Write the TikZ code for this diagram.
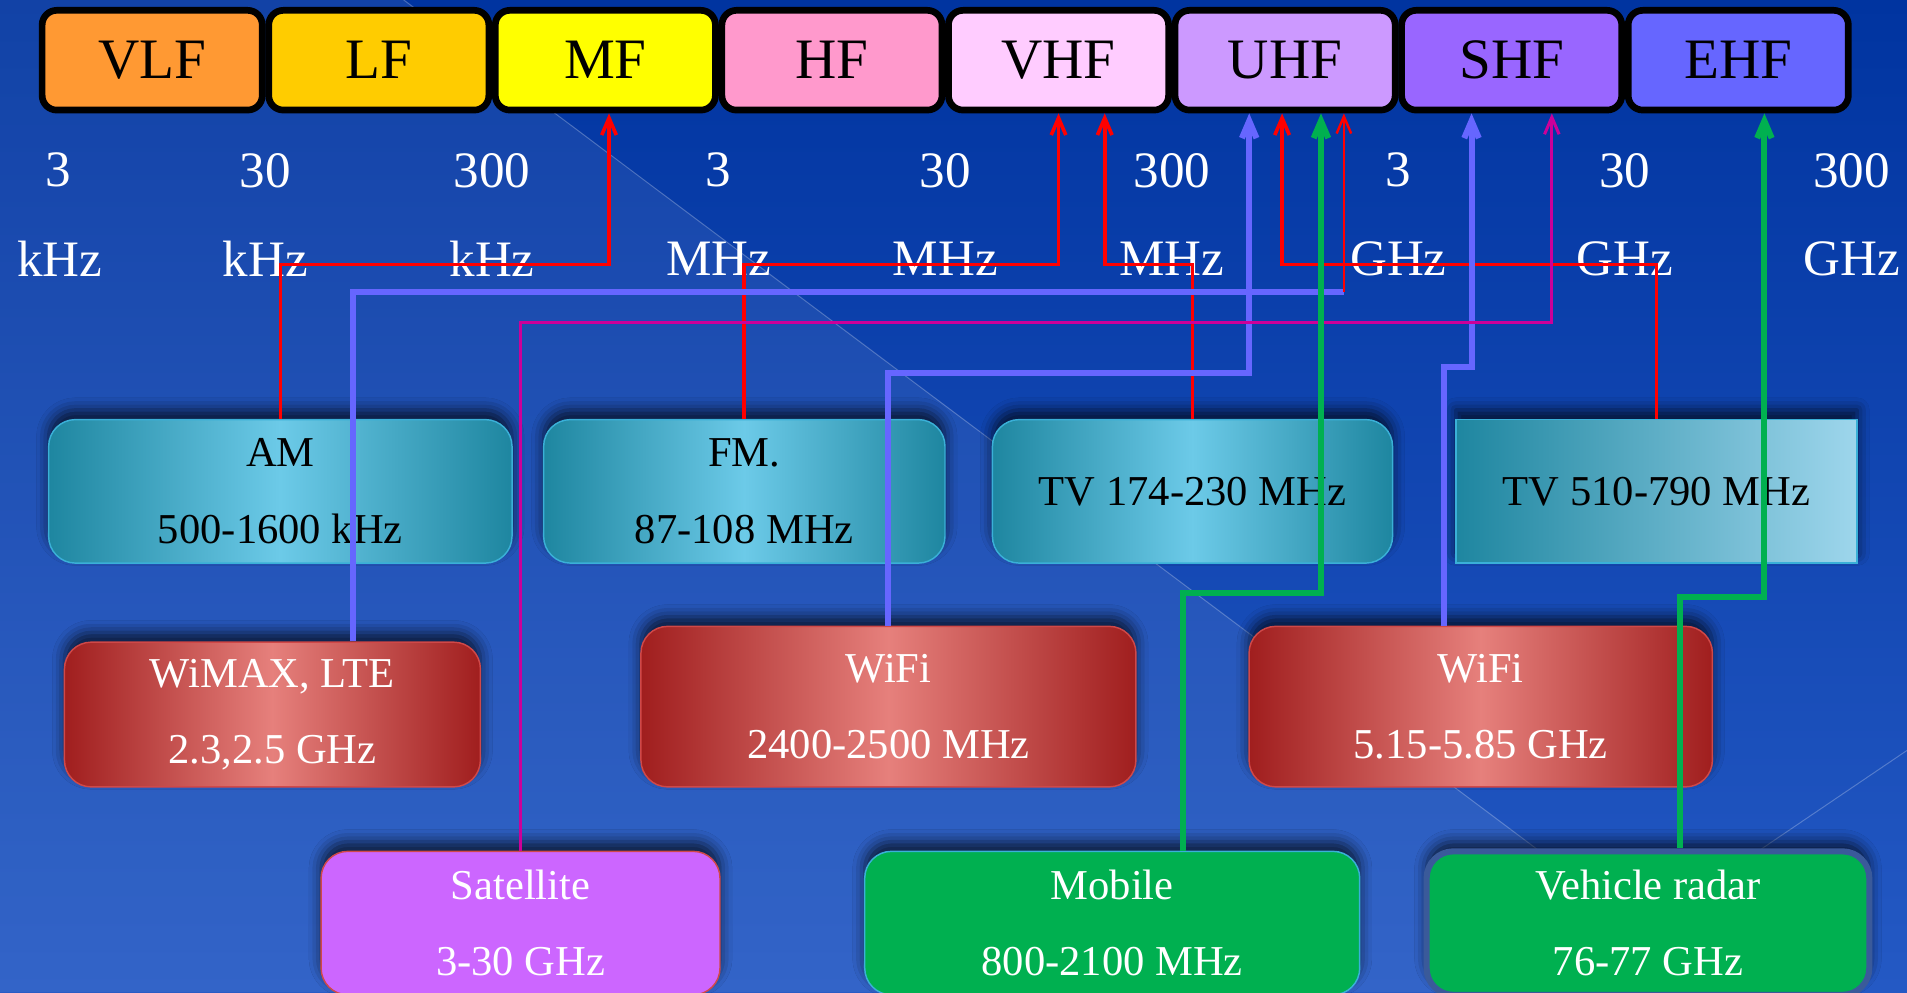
\documentclass[tikz,border=0pt]{standalone}
\usepackage{fontspec}
\setmainfont{Liberation Serif}
\usetikzlibrary{arrows.meta,shadows.blur}
\definecolor{bgtop}{HTML}{0034A0}
\definecolor{bgbot}{HTML}{2459C4}
\definecolor{cVLF}{HTML}{FF9933}
\definecolor{cLF}{HTML}{FFCC00}
\definecolor{cMF}{HTML}{FFFF00}
\definecolor{cHF}{HTML}{FF99CC}
\definecolor{cVHF}{HTML}{FFCCFF}
\definecolor{cUHF}{HTML}{CC99FF}
\definecolor{cSHF}{HTML}{9966FF}
\definecolor{cEHF}{HTML}{6666FF}
\definecolor{cyD}{HTML}{1E86A0}
\definecolor{cyL}{HTML}{6CCAE8}
\definecolor{cyE}{HTML}{9ED6EC}
\definecolor{cyB}{HTML}{3AB0D8}
\definecolor{rdD}{HTML}{A01E1E}
\definecolor{rdL}{HTML}{E6807C}
\definecolor{rdB}{HTML}{D04848}
\definecolor{satC}{HTML}{CC66FF}
\definecolor{grnC}{HTML}{00B050}
\definecolor{radB}{HTML}{3A5A9A}
\definecolor{lnRed}{HTML}{FF0000}
\definecolor{lnBlue}{HTML}{6666FF}
\definecolor{lnMag}{HTML}{CC0099}
\definecolor{lnGrn}{HTML}{00B050}
\tikzset{
  band/.style={draw=black, line width=5.5pt, rounded corners=12pt,
    minimum width=181pt, minimum height=82pt, inner sep=0pt,
    font=\fontsize{47}{50}\selectfont, text=black},
  freq/.style={text=white, inner sep=0pt, font=\fontsize{42}{46}\selectfont},
  shad/.style={blur shadow={shadow xshift=0pt, shadow yshift=8pt,
    shadow blur radius=10pt, shadow opacity=70}},
  cybox/.style={shad, rounded corners=22pt, draw=cyB, line width=1.2pt,
    left color=cyD, right color=cyD, middle color=cyL, inner sep=0pt,
    align=center, text=black, font=\fontsize{35}{63}\selectfont},
  rdbox/.style={shad, rounded corners=22pt, draw=rdB, line width=1.2pt,
    left color=rdD, right color=rdD, middle color=rdL, inner sep=0pt,
    align=center, text=white, font=\fontsize{35}{62}\selectfont},
  btbox/.style={shad, rounded corners=22pt, line width=1.2pt, inner sep=0pt,
    align=center, text=white, font=\fontsize{35}{63}\selectfont},
  tip/.style={-{Straight Barb[length=14pt,width=12pt]}},
  redln/.style={tip, draw=lnRed, line width=3pt},
  redthin/.style={tip, draw=lnRed, line width=2pt},
  blueln/.style={tip, draw=lnBlue, line width=5pt},
  magln/.style={tip, draw=lnMag, line width=2.5pt},
  grnln/.style={tip, draw=lnGrn, line width=5pt},
}
\begin{document}
\begin{tikzpicture}[x=1pt,y=-1pt]
\useasboundingbox (0,0) rectangle (1568,816);
\clip (0,0) rectangle (1568,816);
% background
\shade[top color=bgtop, bottom color=bgbot] (0,0) rectangle (1568,816);
\fill[white, opacity=0.07] (0,0) -- (332,0) -- (1421,816) -- (0,816) -- cycle;
\draw[white, opacity=0.25, line width=0.8pt] (332,0) -- (1421,816);
\draw[white, opacity=0.25, line width=0.8pt] (1568,617) -- (1274,816);
% band row
\foreach \n/\c [count=\i from 0] in {VLF/cVLF,LF/cLF,MF/cMF,HF/cHF,VHF/cVHF,UHF/cUHF,SHF/cSHF,EHF/cEHF}
  \node[band, fill=\c] (\n) at ({32+186.3*\i+93.15}, 49.5) {\n};
% frequency labels
\node[freq] (f1) at (48,140) {3};
\node[freq] (u1) at (49,213) {kHz};
\foreach \v/\u [count=\i from 1] in {30/kHz,300/kHz,3/MHz,30/MHz,300/MHz,3/GHz,30/GHz,300/GHz}
  {\node[freq] (f\i x) at ({32+186.3*\i}, 140) {\v};
   \node[freq] (u\i x) at ({32+186.3*\i}, 213) {\u};}
% service boxes
\node[cybox, minimum width=381pt, minimum height=118pt] (am) at (230.5,404) {AM\\500-1600 kHz};
\node[cybox, minimum width=330pt, minimum height=118pt] (fm) at (612,404) {FM.\\87-108 MHz};
\node[cybox, minimum width=329pt, minimum height=118pt] (tva) at (980.5,404) {TV 174-230 MHz};
\node[cybox, rounded corners=0pt, left color=cyD, middle color=cyL, right color=cyE,
      minimum width=330pt, minimum height=118pt] (tvb) at (1362,404) {TV 510-790 MHz};
\node[rdbox, minimum width=342pt, minimum height=119pt] (wimax) at (224,587.5) {WiMAX, LTE\\2.3,2.5 GHz};
\node[rdbox, minimum width=407pt, minimum height=132pt] (wifia) at (730.5,581) {WiFi\\2400-2500 MHz};
\node[rdbox, minimum width=381pt, minimum height=132pt] (wifib) at (1217.5,581) {WiFi\\5.15-5.85 GHz};
\node[btbox, fill=satC, draw=rdB, minimum width=328pt, minimum height=118pt] (sat) at (428,759) {Satellite\\3-30 GHz};
\node[btbox, fill=grnC, draw=cyB, minimum width=407pt, minimum height=118pt] (mob) at (914.5,759) {Mobile\\800-2100 MHz};
\node[btbox, fill=grnC, draw=radB, line width=5pt, minimum width=364pt, minimum height=118pt] (radar) at (1355,759) {Vehicle radar\\76-77 GHz};
% connectors
\draw[redln] (am.north) -- ++(0,-127) -| ([xshift=3pt]MF.south);
\draw[redln] (fm.north) -- ++(0,-127) -| (VHF.south);
\draw[redln] (tva.north) -- ++(0,-127) -| ([xshift=38pt]VHF.south);
\draw[redln] (tvb.north) -- ++(0,-127) -| ([xshift=-2.5pt]UHF.south);
\coordinate (wk) at (1105,240);
\draw[draw=lnBlue, line width=5pt] ([xshift=66pt]wimax.north) |- (wk);
\draw[redthin] (wk) -- (wk |- UHF.south);
\draw[blueln] (wifia.north) -- ++(0,-208) -| ([xshift=-29.5pt]UHF.south);
\draw[blueln] ([xshift=-30.5pt]wifib.north) -- ++(0,-213) -| ([xshift=-33pt]SHF.south);
\draw[magln] (sat.north) -- ++(0,-434) -| ([xshift=33pt]SHF.south);
\draw[grnln] ([xshift=58.5pt]mob.north) -- ++(0,-212) -| ([xshift=29.5pt]UHF.south);
\draw[grnln] ([xshift=26pt]radar.north) -- ++(0,-207) -| ([xshift=21.5pt]EHF.south);
\end{tikzpicture}
\end{document}
